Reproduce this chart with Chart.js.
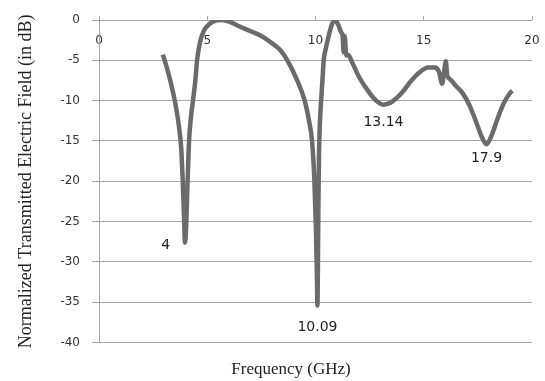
<!DOCTYPE html>
<html>
<head>
<meta charset="utf-8">
<script src="https://cdn.jsdelivr.net/npm/chart.js@4.4.1/dist/chart.umd.min.js"></script>
<style>
  html, body { margin: 0; padding: 0; background: #fff; }
</style>
</head>
<body>
<canvas id="fieldChart" width="545" height="381"></canvas>
<script>
// frequency in GHz, level in dB
const freq = [
  2.95, 3.1, 3.3, 3.5, 3.63, 3.73, 3.8, 3.86, 3.91, 3.95, 3.97, 4.02, 4.08, 4.16, 4.25, 4.34, 4.45,
  4.53, 4.67, 4.85, 5.1, 5.35, 5.6, 5.9, 6.5, 7.0, 7.44, 7.9, 8.36, 8.7, 9.14, 9.5,
  9.7, 9.84, 9.95, 10.02, 10.06, 10.09, 10.11, 10.13, 10.16, 10.2, 10.26, 10.32, 10.38, 10.48, 10.58,
  10.75, 10.9, 11.05, 11.2, 11.25, 11.3, 11.35, 11.42, 11.5, 11.7, 12.0, 12.4, 12.8, 13.14, 13.5,
  14.0, 14.4, 14.8, 15.2, 15.5, 15.7, 15.85, 15.95, 16.02, 16.08, 16.2, 16.5, 16.8, 17.1, 17.4,
  17.65, 17.9, 18.15, 18.4, 18.7, 19.0, 19.1
];
const level = [
  -4.3, -5.6, -7.6, -10, -12, -14, -16, -19.5, -23, -26.5, -27.6, -26, -21, -15, -12, -10, -7.5,
  -5, -2.7, -1.3, -0.5, -0.1, 0, -0.1, -0.8, -1.4, -1.9, -2.7, -3.7, -5, -7.4, -10,
  -12.5, -15, -20, -26, -31, -35.4, -31, -24, -17, -13, -10, -7.5, -5, -3.5, -2.3,
  -0.6, 0, -0.6, -1.6, -1.9, -4.0, -2.0, -4.4, -4.3, -5.3, -7.0, -8.7, -10, -10.5, -10.2,
  -9.0, -7.6, -6.5, -5.9, -5.9, -6.4, -7.9, -6.2, -5.1, -6.8, -7.3, -8.2, -9.1, -10.5, -12.5,
  -14.3, -15.4, -14.2, -12.3, -10.3, -9.0, -8.8
];

// marked minima
const dipFreq = [4, 10.09, 13.14, 17.9];
const dipLevel = [-27.6, -35.4, -10.5, -15.4];
const dipText = ['4', '10.09', '13.14', '17.9'];

const xTicks = [0, 5, 10, 15, 20];
const yTicks = [0, -5, -10, -15, -20, -25, -30, -35, -40];

const gridColor = '#a6a6a6';

// write the frequency of each minimum next to it
const dipLabels = {
  id: 'dipLabels',
  afterDatasetsDraw(chart, args, opts) {
    const ctx = chart.ctx;
    const xs = chart.scales.x;
    const ys = chart.scales.y;
    ctx.save();
    ctx.font = '14px "DejaVu Sans"';
    ctx.fillStyle = '#222';
    ctx.textAlign = 'center';
    ctx.textBaseline = 'middle';
    dipText.forEach((t, i) => {
      const off = opts.offsets[i];
      ctx.fillText(t, xs.getPixelForValue(dipFreq[i]) + off[0], ys.getPixelForValue(dipLevel[i]) + off[1]);
    });
    ctx.restore();
  }
};

new Chart(document.getElementById('fieldChart'), {
  type: 'line',
  data: {
    datasets: [{
      data: freq.map((f, i) => ({ x: f, y: level[i] })),
      borderColor: '#6b6b6b',
      borderWidth: 4.5,
      pointRadius: 0,
      cubicInterpolationMode: 'monotone',
      fill: false
    }]
  },
  options: {
    responsive: false,
    animation: false,
    layout: { padding: { left: 50, right: 13, top: 16, bottom: 0 } },
    plugins: {
      legend: { display: false },
      tooltip: { enabled: false },
      title: {
        display: true,
        position: 'bottom',
        text: 'Frequency (GHz)',
        color: '#222',
        font: { family: '"Liberation Serif"', size: 17, weight: 'normal' },
        padding: { top: 17, bottom: 1 }
      },
      dipLabels: { offsets: [[-20, 3], [0, 22], [0, 18], [0, 14]] }
    },
    scales: {
      x: {
        type: 'linear',
        position: { y: 0 },
        min: 0,
        max: 20,
        afterBuildTicks: s => { s.ticks = xTicks.map(v => ({ value: v })); },
        // invisible tick marks push the labels down below the top line
        grid: { display: true, drawOnChartArea: false, drawTicks: true, tickLength: 14, color: 'rgba(0,0,0,0)' },
        border: { display: false },
        ticks: { padding: 0, autoSkip: false, maxRotation: 0, color: '#333', font: { family: '"DejaVu Sans"', size: 12 } }
      },
      x2: {
        type: 'linear',
        position: 'top',
        min: 0,
        max: 20,
        afterBuildTicks: s => { s.ticks = xTicks.map(v => ({ value: v })); },
        grid: { drawOnChartArea: false, drawTicks: true, tickLength: 4, color: gridColor },
        border: { display: false },
        ticks: { display: false }
      },
      y: {
        min: -40,
        max: 0,
        afterBuildTicks: s => { s.ticks = yTicks.map(v => ({ value: v })); },
        afterFit: s => { s.width = 49; },
        grid: { color: gridColor, tickLength: 7 },
        border: { color: gridColor },
        ticks: { padding: 12, autoSkip: false, color: '#333', font: { family: '"DejaVu Sans"', size: 12 } },
        title: {
          display: true,
          text: 'Normalized Transmitted Electric Field (in dB)',
          color: '#222',
          font: { family: '"Liberation Serif"', size: 18, weight: 'normal' },
          padding: { top: -35, bottom: 0 }
        }
      }
    }
  },
  plugins: [dipLabels]
});
</script>
</body>
</html>
